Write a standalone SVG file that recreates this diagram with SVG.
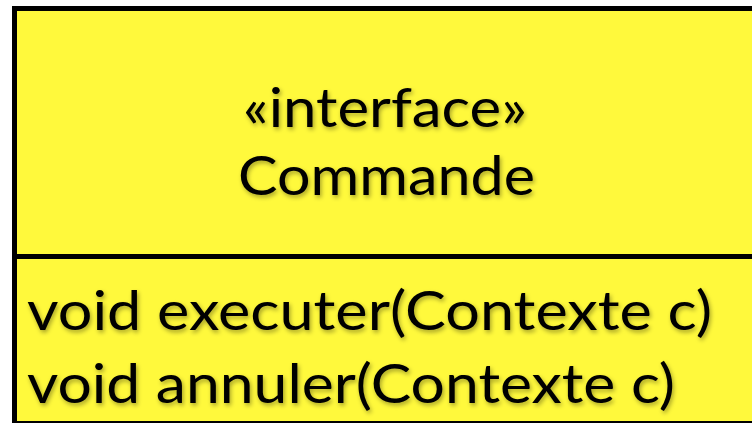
<svg xmlns="http://www.w3.org/2000/svg" width="752" height="423" viewBox="0 0 752 423">
<defs>
<filter id="sh" x="-10%" y="-30%" width="120%" height="160%">
<feDropShadow dx="1.5" dy="2.5" stdDeviation="2.2" flood-color="#000" flood-opacity="0.35"/>
</filter>
<style>
.box{fill:#FFF93C;stroke:#000;stroke-width:5}
.t{font-family:Lato,"Open Sans","Liberation Sans",sans-serif;font-size:54px;fill:#000;filter:url(#sh)}
</style>
</defs>
<rect width="752" height="423" fill="#fff"/>
<g id="commande">
<rect class="box" x="14.5" y="8.5" width="750" height="415"/>
<line x1="14.5" y1="256.5" x2="760" y2="256.5" stroke="#000" stroke-width="5"/>
<text class="t" x="243" y="127" textLength="284" lengthAdjust="spacingAndGlyphs">«interface»</text>
<text class="t" x="238" y="195" textLength="297" lengthAdjust="spacingAndGlyphs">Commande</text>
<text class="t" x="27" y="330" textLength="685" lengthAdjust="spacingAndGlyphs">void executer(Contexte c)</text>
<text class="t" x="27" y="403" textLength="648" lengthAdjust="spacingAndGlyphs">void annuler(Contexte c)</text>
</g>
</svg>
